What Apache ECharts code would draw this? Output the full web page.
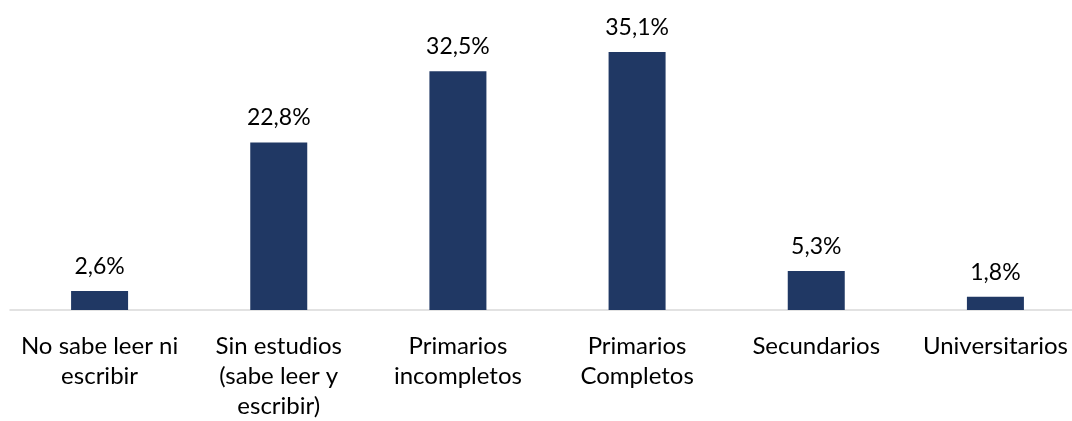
<!DOCTYPE html>
<html>
<head>
<meta charset="utf-8">
<script src="https://cdn.jsdelivr.net/npm/echarts@6/dist/echarts.min.js"></script>
<style>
  html, body { margin: 0; padding: 0; background: #fff; overflow: hidden; }
  /* plot runs a little past the right edge of the window */
  #chart { width: 1085px; height: 421px; }
</style>
</head>
<body>
<div id="chart"></div>
<script>
// Nivel de estudios (% de personas)
const categories = [
  'No sabe leer ni\nescribir',
  'Sin estudios\n(sabe leer y\nescribir)',
  'Primarios\nincompletos',
  'Primarios\nCompletos',
  'Secundarios',
  'Universitarios'
];
const values = [2.6, 22.8, 32.5, 35.1, 5.3, 1.8];

const FONT = 'Lato, "Open Sans", sans-serif';

const chart = echarts.init(document.getElementById('chart'));
chart.setOption({
  animation: false,
  grid: { left: 10, right: 0, top: 16, bottom: 110, containLabel: false },
  xAxis: {
    type: 'category',
    data: categories,
    axisLine: { show: true, lineStyle: { color: '#d9d9d9', width: 1.5 } },
    axisTick: { show: false },
    axisLabel: {
      interval: 0,
      color: '#000',
      fontFamily: FONT,
      fontSize: 24,
      lineHeight: 30,
      margin: 21
    }
  },
  yAxis: {
    type: 'value',
    min: 0,
    max: 40,
    show: false,
    splitLine: { show: false }
  },
  series: [{
    type: 'bar',
    data: values,
    barWidth: 57,
    itemStyle: { color: '#203864' },
    label: {
      show: true,
      position: 'top',
      distance: 13,
      color: '#000',
      fontFamily: FONT,
      fontSize: 23,
      formatter: p => p.value.toFixed(1).replace('.', ',') + '%'
    }
  }]
});
</script>
</body>
</html>
